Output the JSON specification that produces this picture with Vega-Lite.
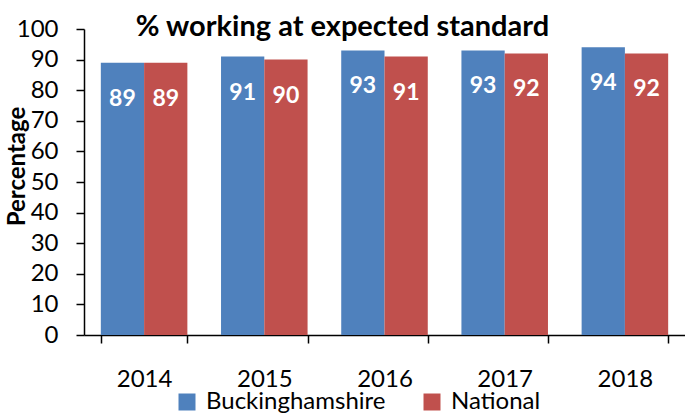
{
  "$schema": "https://vega.github.io/schema/vega-lite/v6.json",
  "width": 601,
  "height": 306,
  "autosize": "none",
  "padding": {"left": 84, "top": 29, "right": 0, "bottom": 78},
  "background": "white",
  "config": {
    "font": "Lato",
    "view": {"stroke": null},
    "axis": {"grid": false, "domainColor": "black", "tickColor": "black", "labelColor": "black", "titleColor": "black", "labelFont": "Lato", "titleFont": "Lato"}
  },
  "title": {
    "text": "% working at expected standard",
    "fontSize": 29,
    "fontWeight": "bold",
    "font": "Lato",
    "color": "black",
    "anchor": "middle",
    "frame": "group",
    "dx": -42,
    "offset": -25
  },
  "data": {
    "values": [
      {"year": "2014", "series": "Buckinghamshire", "value": 89},
      {"year": "2014", "series": "National", "value": 89},
      {"year": "2015", "series": "Buckinghamshire", "value": 91},
      {"year": "2015", "series": "National", "value": 90},
      {"year": "2016", "series": "Buckinghamshire", "value": 93},
      {"year": "2016", "series": "National", "value": 91},
      {"year": "2017", "series": "Buckinghamshire", "value": 93},
      {"year": "2017", "series": "National", "value": 92},
      {"year": "2018", "series": "Buckinghamshire", "value": 94},
      {"year": "2018", "series": "National", "value": 92}
    ]
  },
  "encoding": {
    "x": {
      "field": "year", "type": "nominal",
      "scale": {"paddingInner": 0.28, "paddingOuter": 0.14},
      "axis": {"title": null, "labelAngle": 0, "labelFontSize": 24, "labelPadding": 24, "tickBand": "extent", "tickSize": 8, "tickWidth": 1.5, "domainWidth": 1.5}
    },
    "xOffset": {"field": "series", "type": "nominal", "sort": ["Buckinghamshire", "National"]},
    "y": {
      "field": "value", "type": "quantitative",
      "scale": {"domain": [0, 100], "nice": false},
      "axis": {"title": "Percentage", "values": [0,10,20,30,40,50,60,70,80,90,100], "labelFontSize": 24, "labelPadding": 18, "tickSize": 8, "tickWidth": 1.5, "domainWidth": 1.5, "titleFontSize": 24, "titleFontWeight": "bold", "titleX": -67, "titleY": 137, "titleAngle": -90, "titleAlign": "center", "titleBaseline": "middle"}
    }
  },
  "layer": [
    {
      "mark": {"type": "bar"},
      "encoding": {
        "color": {
          "field": "series", "type": "nominal",
          "scale": {"domain": ["Buckinghamshire", "National"], "range": ["#4F81BD", "#C0504D"]},
          "legend": {"title": null, "orient": "none", "legendX": 91, "legendY": 361, "direction": "horizontal", "symbolType": "square", "symbolSize": 289, "symbolStrokeWidth": 0, "labelFontSize": 24, "labelFont": "Lato", "labelColor": "black", "labelOffset": 7, "labelLimit": 400, "columnPadding": 34}
        }
      }
    },
    {
      "mark": {"type": "text", "color": "white", "fontWeight": "bold", "fontSize": 23, "baseline": "middle", "dy": 36, "font": "Lato"},
      "encoding": {"text": {"field": "value", "type": "quantitative"}}
    }
  ]
}
